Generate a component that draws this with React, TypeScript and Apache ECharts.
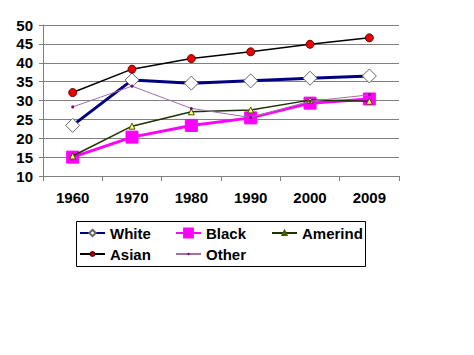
import React, { useEffect, useRef } from "react";
import * as echarts from "echarts";

const years = ["1960", "1970", "1980", "1990", "2000", "2009"];
const white = [23.4, 35.4, 34.6, 35.2, 35.9, 36.5];
const black = [15.0, 20.3, 23.4, 25.4, 29.3, 30.4];
const amerind = [15.3, 23.2, 27.0, 27.5, 30.1, 29.8];
const asian = [32.1, 38.3, 41.1, 42.9, 44.9, 46.6];
const other = [28.3, 33.8, 27.9, 25.5, 29.8, 31.5];

const FONT = "Liberation Sans";

export default function App() {
  const ref = useRef<HTMLDivElement>(null);
  useEffect(() => {
    if (!ref.current) return;
    const chart = echarts.init(ref.current, undefined, { renderer: "svg" });
    const legendText = { fontFamily: FONT, fontWeight: "bold" as const, fontSize: 15, color: "#000", lineHeight: 16 };
    const mkLegend = (name: string, left: number, center: number, h: number) => ({
      data: [name],
      left,
      top: center - 8,
      orient: "horizontal" as const,
      padding: 0,
      itemWidth: 25,
      itemHeight: h,
      itemGap: 0,
      textStyle: legendText,
      selectedMode: false,
    });
    chart.setOption({
      animation: false,
      backgroundColor: "#fff",
      grid: { left: 43, right: 75, top: 25, bottom: 179, containLabel: false },
      xAxis: {
        type: "category",
        data: years,
        boundaryGap: true,
        axisLine: { show: true, lineStyle: { color: "#808080", width: 1 } },
        axisTick: { show: true, length: 5, interval: 0, lineStyle: { color: "#808080" } },
        axisLabel: { fontFamily: FONT, fontWeight: "bold", fontSize: 15, color: "#000", margin: 14, interval: 0 },
        splitLine: { show: false },
      },
      yAxis: {
        type: "value",
        min: 10,
        max: 50,
        interval: 5,
        axisLine: { show: true, lineStyle: { color: "#808080", width: 1 } },
        axisTick: { show: true, length: 4, lineStyle: { color: "#808080" } },
        axisLabel: { fontFamily: FONT, fontWeight: "bold", fontSize: 15, color: "#000", margin: 10 },
        splitLine: { show: true, lineStyle: { color: "#808080", width: 1 } },
      },
      legend: [
        mkLegend("White", 79, 233, 8),
        mkLegend("Black", 175, 233, 11),
        mkLegend("Amerind", 271, 233, 5),
        mkLegend("Asian", 79, 254, 5),
        mkLegend("Other", 175, 254, 3),
      ],
      graphic: [
        {
          type: "rect",
          shape: { x: 76.5, y: 221.5, width: 289, height: 45 },
          style: { fill: "none", stroke: "#000", lineWidth: 1 },
          z: 0,
        },
      ],
      series: [
        {
          name: "White",
          type: "line",
          data: white,
          symbol: "diamond",
          symbolSize: 14,
          lineStyle: { color: "#000080", width: 3 },
          itemStyle: { color: "#fff", borderColor: "#666", borderWidth: 1 },
          z: 2,
        },
        {
          name: "Black",
          type: "line",
          data: black,
          symbol: "rect",
          symbolSize: 12,
          lineStyle: { color: "#ff00ff", width: 3 },
          itemStyle: { color: "#ff00ff", borderColor: "#ff00ff", borderWidth: 1 },
          z: 3,
        },
        {
          name: "Amerind",
          type: "line",
          data: amerind,
          symbol: "triangle",
          symbolSize: 6,
          lineStyle: { color: "#1a3300", width: 1.5 },
          itemStyle: { color: "#ffff66", borderColor: "#445500", borderWidth: 1 },
          z: 4,
        },
        {
          name: "Asian",
          type: "line",
          data: asian,
          symbol: "circle",
          symbolSize: 8,
          lineStyle: { color: "#000", width: 1.5 },
          itemStyle: { color: "#ee0000", borderColor: "#660000", borderWidth: 1 },
          z: 5,
        },
        {
          name: "Other",
          type: "line",
          data: other,
          symbol: "circle",
          symbolSize: 3,
          lineStyle: { color: "#a070a0", width: 1 },
          itemStyle: { color: "#800080", borderColor: "#800080", borderWidth: 0 },
          z: 6,
        },
      ],
    });
    return () => chart.dispose();
  }, []);
  return <div ref={ref} style={{ width: 474, height: 355, position: "absolute", left: 0, top: 0 }} />;
}
